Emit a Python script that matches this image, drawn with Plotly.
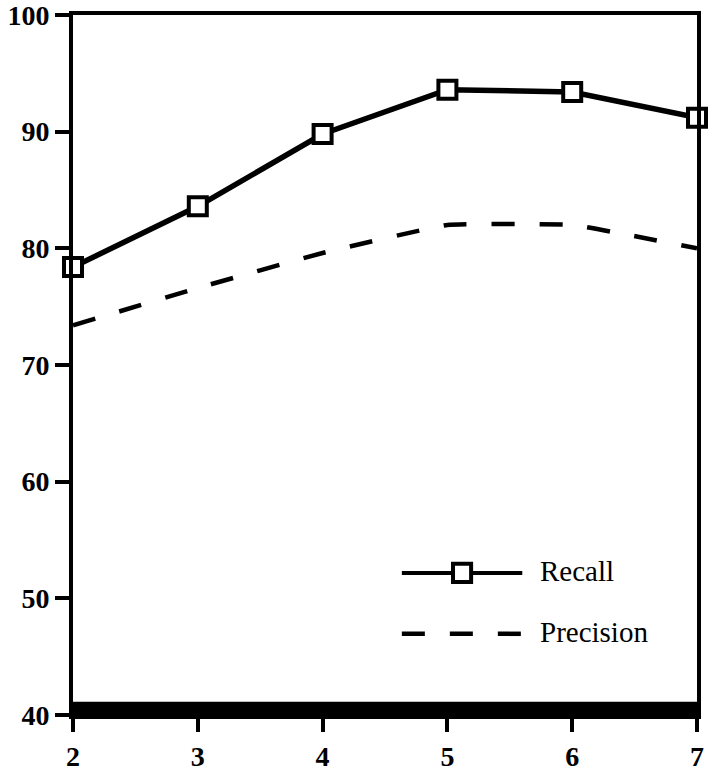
import plotly.graph_objects as go

x_vals = [2, 3, 4, 5, 6, 7]
recall = [78.4, 83.6, 89.8, 93.6, 93.4, 91.2]
precision = [73.4, 76.6, 79.6, 82.0, 82.0, 80.0]
y_ticks = [40, 50, 60, 70, 80, 90, 100]
band_y = 40.5

fig = go.Figure()

fig.add_trace(go.Scatter(
    x=x_vals, y=precision, mode="lines", name="Precision",
    line=dict(color="black", width=4.5, dash="23px,25px", shape="spline", smoothing=0.3),
    cliponaxis=False, showlegend=False))

fig.add_trace(go.Scatter(
    x=x_vals, y=recall, mode="lines+markers", name="Recall",
    line=dict(color="black", width=5.5),
    marker=dict(symbol="square", size=18, color="white", line=dict(color="black", width=4)),
    cliponaxis=False, showlegend=False))

# thick baseline band
fig.add_shape(type="line", xref="x", yref="y", x0=x_vals[0], x1=x_vals[-1], y0=band_y, y1=band_y,
              line=dict(color="black", width=15), layer="below")

# manual legend
font_leg = dict(family="Liberation Serif, Times New Roman, serif", size=29, color="black")
fig.add_shape(type="line", xref="paper", yref="paper", x0=0.527, x1=0.72, y0=0.203, y1=0.203,
              line=dict(color="black", width=4))
fig.add_shape(type="rect", xref="paper", yref="paper", x0=0.609, x1=0.638, y0=0.190, y1=0.216,
              line=dict(color="black", width=4), fillcolor="white")
fig.add_annotation(xref="paper", yref="paper", x=0.745, y=0.206, text="Recall", showarrow=False,
                   xanchor="left", yanchor="middle", font=font_leg)
fig.add_shape(type="line", xref="paper", yref="paper", x0=0.527, x1=0.72, y0=0.116, y1=0.116,
              line=dict(color="black", width=4.5, dash="23px,25px"))
fig.add_annotation(xref="paper", yref="paper", x=0.745, y=0.119, text="Precision", showarrow=False,
                   xanchor="left", yanchor="middle", font=font_leg)

tick_font = dict(family="Liberation Serif, Times New Roman, serif", size=28, color="black", weight="bold")
fig.update_xaxes(range=[2, 7], tickvals=x_vals, ticks="outside", ticklen=13, tickwidth=4,
                 tickcolor="black", showline=True, linecolor="black", linewidth=4, mirror=True,
                 showgrid=False, zeroline=False, tickfont=tick_font, automargin=False,
                 ticklabeloverflow="allow")
fig.update_yaxes(range=[40, 100], tickvals=y_ticks, ticks="outside", ticklen=14, tickwidth=4,
                 tickcolor="black", showline=True, linecolor="black", linewidth=4, mirror=True,
                 showgrid=False, zeroline=False, tickfont=tick_font, automargin=False,
                 ticklabeloverflow="allow")

fig.update_layout(
    width=709, height=772,
    margin=dict(l=73, r=12, t=15, b=57),
    plot_bgcolor="white", paper_bgcolor="white",
    font=dict(family="Liberation Serif, Times New Roman, serif", color="black"),
)

fig.write_html("out.html", config={"displayModeBar": False},
               post_script="document.body.style.margin='0';document.body.style.overflow='hidden';")
